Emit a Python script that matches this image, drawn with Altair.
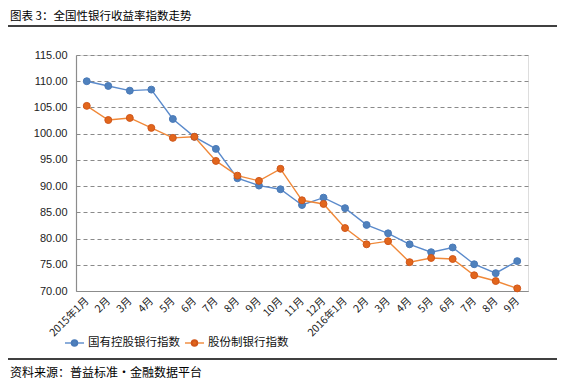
import altair as alt
import pandas as pd

month_labels = ["2015年1月", "2月", "3月", "4月", "5月", "6月", "7月", "8月", "9月", "10月", "11月", "12月",
                "2016年1月", "2月", "3月", "4月", "5月", "6月", "7月", "8月", "9月"]
state_owned = [110.0, 109.1, 108.2, 108.4, 102.8, 99.4, 97.1, 91.5, 90.1, 89.4, 86.4, 87.8,
               85.8, 82.6, 81.0, 78.9, 77.4, 78.3, 75.1, 73.4, 75.7]
joint_stock = [105.3, 102.6, 103.0, 101.1, 99.2, 99.4, 94.8, 92.0, 91.0, 93.3, 87.3, 86.6,
               82.0, 78.9, 79.5, 75.5, 76.3, 76.1, 73.0, 71.9, 70.5]
series_names = ["国有控股银行指数", "股份制银行指数"]
line_colors = ["#5A8ACB", "#F08838"]
dot_fills = ["#4F81BD", "#E2661C"]
dot_strokes = ["#4A7AB8", "#D0561A"]
y_ticks = [70, 75, 80, 85, 90, 95, 100, 105, 110, 115]
title_text = "图表 3：全国性银行收益率指数走势"
source_text = "资料来源：普益标准・金融数据平台"

rows = []
for i, lab in enumerate(month_labels):
    rows.append({"idx": i, "series": series_names[0], "value": state_owned[i]})
    rows.append({"idx": i, "series": series_names[1], "value": joint_stock[i]})
df = pd.DataFrame(rows)

label_expr = "[" + ",".join("'" + l + "'" for l in month_labels) + "][datum.value]"

x_enc = alt.X("idx:O", title=None,
              axis=alt.Axis(labelExpr=label_expr, labelAngle=-45, labelAlign="right",
                            labelBaseline="middle", labelPadding=8, ticks=False,
                            domainColor="#8C8C8C", domainWidth=1.2,
                            labelFont="Noto Sans CJK SC", labelFontSize=10.5, labelColor="#222"))
y_enc = alt.Y("value:Q", title=None,
              scale=alt.Scale(domain=[70, 115], nice=False, zero=False),
              axis=alt.Axis(values=y_ticks, format=".2f", ticks=False, labelPadding=9,
                            domainColor="#8C8C8C", domainWidth=1.2,
                            grid=True, gridColor="#8A8A8A", gridDash=[4, 3], gridWidth=1,
                            labelFont="Liberation Sans", labelFontSize=11, labelColor="#222"))

base = alt.Chart(df)
lines = base.mark_line(strokeWidth=1.4).encode(
    x=x_enc, y=y_enc,
    color=alt.Color("series:N", scale=alt.Scale(domain=series_names, range=line_colors), legend=None),
)
dots = base.mark_point(filled=True, size=48, opacity=1, strokeWidth=1).encode(
    x=x_enc, y=y_enc,
    fill=alt.Fill("series:N", scale=alt.Scale(domain=series_names, range=dot_fills), legend=None),
    stroke=alt.Stroke("series:N", scale=alt.Scale(domain=series_names, range=dot_strokes), legend=None),
)

# decorations (title, rules, legend, source)
dec = alt.Chart(pd.DataFrame({"a": [0]}))
title = dec.mark_text(text=title_text, align="left", baseline="middle", font="Noto Sans CJK SC",
                      fontSize=11.5, color="#000").encode(x=alt.value(-66), y=alt.value(-38))
top_rule = dec.mark_rule(color="#000", strokeWidth=1.5).encode(
    x=alt.value(-68), x2=alt.value(481), y=alt.value(-29))
bottom_rule = dec.mark_rule(color="#000", strokeWidth=1.5).encode(
    x=alt.value(-68), x2=alt.value(481), y=alt.value(304))
source = dec.mark_text(text=source_text, align="left", baseline="middle", font="Noto Sans CJK SC",
                       fontSize=12, color="#000").encode(x=alt.value(-66), y=alt.value(318))

legend_layers = []
leg_x = [-11, 109]
for k in range(2):
    x0 = leg_x[k]
    legend_layers.append(dec.mark_rule(color=line_colors[k], strokeWidth=1.4).encode(
        x=alt.value(x0), x2=alt.value(x0 + 19), y=alt.value(288)))
    legend_layers.append(dec.mark_point(filled=True, size=30, fill=dot_fills[k], stroke=dot_strokes[k],
                                        opacity=1).encode(x=alt.value(x0 + 9.5), y=alt.value(288)))
    legend_layers.append(dec.mark_text(text=series_names[k], align="left", baseline="middle",
                                       font="Noto Sans CJK SC", fontSize=11.5, color="#111").encode(
        x=alt.value(x0 + 23), y=alt.value(288)))

chart = alt.layer(lines, dots, title, top_rule, bottom_rule, source, *legend_layers).properties(
    width=452, height=236,
    padding={"left": 68, "top": 47, "right": 31, "bottom": 88},
    autosize=alt.AutoSizeParams(type="none"),
).configure_view(stroke=None).configure(background="white")

chart.save("out.html", embed_options={"renderer": "svg", "actions": False})
